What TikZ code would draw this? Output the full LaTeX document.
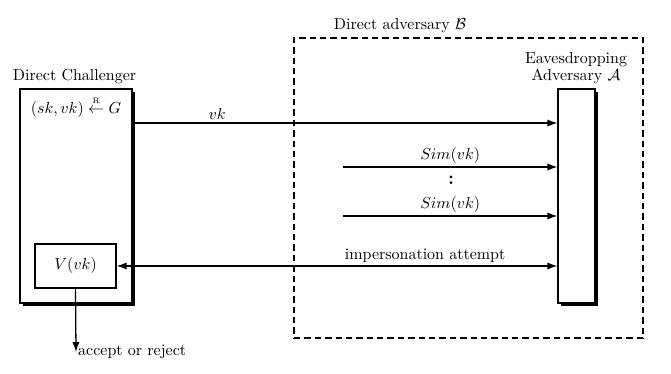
\documentclass[tikz,border=0pt]{standalone}
\usepackage{amsmath}
\usetikzlibrary{arrows.meta,shadows}
\def\pu{0.022cm}
\tikzset{
    party/.style={draw, fill=white, thick, inner sep=0pt,
        drop shadow={shadow xshift=0.07cm, shadow yshift=-0.07cm, fill=black, opacity=1}},
    plainbox/.style={draw, thick, inner sep=0pt},
    msg/.style={thick, -{Latex[length=2.2mm, width=1.6mm]}},
    twoway/.style={thick, {Latex[length=2.2mm, width=1.6mm]}-{Latex[length=2.2mm, width=1.6mm]}},
}
\begin{document}
\begin{tikzpicture}[x=\pu, y=-\pu]
                \useasboundingbox (0,0) rectangle (671,373);
                \node[draw, thick, dash pattern=on 4pt off 2.5pt, minimum width=349*\pu, minimum height=300*\pu] (advB) at (468.5,188) {};
                \node[anchor=south west, inner sep=1pt] (advBlabel) at (332,35) {Direct adversary $\mathcal{B}$};
                \node[party, minimum width=112*\pu, minimum height=214*\pu] (chal) at (76,196) {};
                \node[anchor=south west, inner sep=1pt] (challabel) at (11,86) {Direct Challenger};
                \node (keygen) at (76,107) {$(sk,vk) \overset{\scriptscriptstyle\mathrm{R}}{\leftarrow} G$};
                \node[plainbox, minimum width=81*\pu, minimum height=44*\pu] (verify) at (75.5,266) {$V(vk)$};
                \node[party, minimum width=37*\pu, minimum height=214*\pu] (adv) at (576.5,196) {};
                \node[align=center, anchor=south, inner sep=1pt] (advlabel) at (576,86) {Eavesdropping\\[-1pt]Adversary $\mathcal{A}$};
                \coordinate (vkl) at (132,123);
                \coordinate (sima) at (343,167);
                \coordinate (simb) at (343,216);
                \coordinate (out) at (76,352);
                \draw[msg](vkl)--(vkl -| adv.west) node[pos=.2, above, inner sep=2pt]{$vk$};
                \draw[msg](sima)--(sima -| adv.west) node[midway, above, inner sep=2pt]{$Sim(vk)$};
                \node[inner sep=0pt] (dots) at (451,180) {\large\bfseries :};
                \draw[msg](simb)--(simb -| adv.west) node[midway, above, inner sep=2pt]{$Sim(vk)$};
                \draw[twoway](verify.east)--(verify.east -| adv.west) node[pos=.7, above, inner sep=2pt]{impersonation attempt};
                \draw[msg](verify.south)--(out) node[anchor=west, inner sep=1pt]{accept or reject};
\end{tikzpicture}
\end{document}
